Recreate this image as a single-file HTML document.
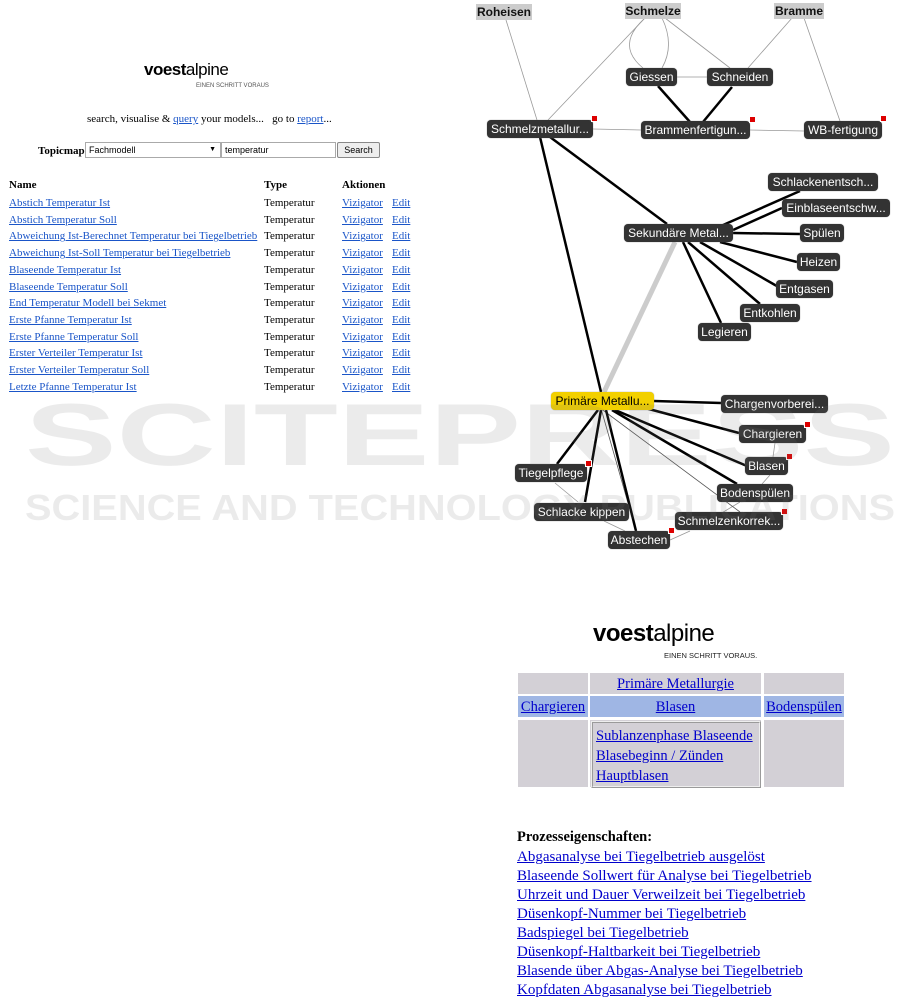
<!DOCTYPE html>
<html><head><meta charset="utf-8">
<style>
body{margin:0;width:913px;height:1005px;position:relative;background:#fff;overflow:hidden;font-family:"Liberation Serif",serif}
.a{position:absolute;white-space:nowrap}
.l{color:#1a55c8;text-decoration:underline}
.s{font-size:11px}
.n{position:absolute;background:#333;color:#fff;font-family:"Liberation Sans",sans-serif;font-size:12px;border-radius:4px;height:18px;line-height:18px;text-align:center;box-shadow:0 0 1px #888;white-space:nowrap}
.g{position:absolute;background:#ccc;color:#111;font-family:"Liberation Sans",sans-serif;font-size:12px;font-weight:bold;height:16px;line-height:16px;text-align:center}
.r{position:absolute;width:5px;height:5px;background:#d00;border:1px solid #fff}
.b{color:#00c;text-decoration:underline;font-size:14.5px}
.p{color:#00c;text-decoration:underline;font-size:15px}
</style></head><body>
<!-- left panel -->
<div class="a" style="left:144px;top:60px;font-family:'Liberation Sans',sans-serif;font-size:17px;font-weight:bold;letter-spacing:-0.5px">voest<span style="font-weight:normal">alpine</span></div>
<div class="a" style="left:196px;top:83px;font-family:'Liberation Sans',sans-serif;font-size:6px;color:#555">EINEN SCHRITT VORAUS</div>
<div class="a s" style="left:87px;top:113px">search, visualise &amp; <span class="l">query</span> your models...&nbsp;&nbsp; go to <span class="l">report</span>...</div>
<div class="a s" style="left:38px;top:145px;font-weight:bold">Topicmap</div>
<div class="a" style="left:85px;top:142px;width:131px;height:14px;border:1px solid #aaa;font-family:'Liberation Sans',sans-serif;font-size:9px;line-height:14px;padding-left:3px;box-sizing:content-box">Fachmodell<span style="position:absolute;right:4px;font-size:7px">▼</span></div>
<div class="a" style="left:221px;top:142px;width:110px;height:14px;border:1px solid #aaa;font-family:'Liberation Sans',sans-serif;font-size:9px;line-height:14px;padding-left:3px">temperatur</div>
<div class="a" style="left:337px;top:142px;width:41px;height:14px;border:1px solid #888;background:#eee;font-family:'Liberation Sans',sans-serif;font-size:9px;line-height:14px;text-align:center;border-radius:2px">Search</div>
<div class="a s" style="left:9px;top:179px;font-weight:bold">Name</div>
<div class="a s" style="left:264px;top:179px;font-weight:bold">Type</div>
<div class="a s" style="left:342px;top:179px;font-weight:bold">Aktionen</div>
<div class="a s" style="left:9px;top:195px;line-height:16.7px">
<div class="l">Abstich Temperatur Ist</div><div class="l">Abstich Temperatur Soll</div><div class="l">Abweichung Ist-Berechnet Temperatur bei Tiegelbetrieb</div><div class="l">Abweichung Ist-Soll Temperatur bei Tiegelbetrieb</div><div class="l">Blaseende Temperatur Ist</div><div class="l">Blaseende Temperatur Soll</div><div class="l">End Temperatur Modell bei Sekmet</div><div class="l">Erste Pfanne Temperatur Ist</div><div class="l">Erste Pfanne Temperatur Soll</div><div class="l">Erster Verteiler Temperatur Ist</div><div class="l">Erster Verteiler Temperatur Soll</div><div class="l">Letzte Pfanne Temperatur Ist</div></div>
<div class="a s" style="left:264px;top:195px;line-height:16.7px">Temperatur<br>Temperatur<br>Temperatur<br>Temperatur<br>Temperatur<br>Temperatur<br>Temperatur<br>Temperatur<br>Temperatur<br>Temperatur<br>Temperatur<br>Temperatur</div>
<div class="a s l" style="left:342px;top:195px;line-height:16.7px">Vizigator<br>Vizigator<br>Vizigator<br>Vizigator<br>Vizigator<br>Vizigator<br>Vizigator<br>Vizigator<br>Vizigator<br>Vizigator<br>Vizigator<br>Vizigator</div>
<div class="a s l" style="left:392px;top:195px;line-height:16.7px">Edit<br>Edit<br>Edit<br>Edit<br>Edit<br>Edit<br>Edit<br>Edit<br>Edit<br>Edit<br>Edit<br>Edit</div>

<!-- graph lines -->
<svg class="a" style="left:0;top:0" width="913" height="560">
<g stroke="#999" stroke-width="0.8" fill="none">
<line x1="506" y1="20" x2="537" y2="120"/><line x1="645" y1="18" x2="548" y2="120"/>
<path d="M645 18 Q615 45 643 68"/><path d="M662 18 Q675 45 662 68"/>
<line x1="665" y1="18" x2="730" y2="68"/><line x1="792" y1="18" x2="748" y2="68"/>
<line x1="804" y1="18" x2="840" y2="121"/><line x1="676" y1="77" x2="707" y2="77"/>
<line x1="593" y1="129" x2="641" y2="130"/><line x1="750" y1="130" x2="804" y2="131"/>
<line x1="775" y1="443" x2="773" y2="457"/><line x1="770" y1="475" x2="762" y2="484"/>
<line x1="720" y1="514" x2="740" y2="502"/><line x1="555" y1="483" x2="578" y2="502"/>
<line x1="604" y1="521" x2="625" y2="531"/><line x1="670" y1="540" x2="690" y2="531"/>
<line x1="596" y1="405" x2="740" y2="512" stroke="#555"/><line x1="600" y1="405" x2="636" y2="531" stroke="#555"/>
</g>
<g stroke="#ccc" stroke-width="5"><line x1="675" y1="242" x2="604" y2="392"/></g>
<g stroke="#000" stroke-width="2.5">
<line x1="540" y1="137" x2="601" y2="392"/><line x1="550" y1="137" x2="667" y2="224"/>
<line x1="658" y1="86" x2="690" y2="122"/><line x1="732" y1="87" x2="703" y2="122"/>
<line x1="705" y1="233" x2="800" y2="191"/><line x1="733" y1="230" x2="782" y2="208"/>
<line x1="733" y1="233" x2="800" y2="234"/><line x1="720" y1="242" x2="797" y2="262"/>
<line x1="700" y1="242" x2="782" y2="289"/><line x1="688" y1="242" x2="760" y2="304"/>
<line x1="683" y1="242" x2="721" y2="323"/>
<line x1="654" y1="401" x2="721" y2="403"/><line x1="645" y1="408" x2="739" y2="433"/>
<line x1="615" y1="410" x2="747" y2="466"/><line x1="612" y1="410" x2="737" y2="484"/>
<line x1="598" y1="410" x2="557" y2="464"/><line x1="601" y1="410" x2="585" y2="502"/>
<line x1="606" y1="410" x2="636" y2="531"/>
</g>
</svg>

<div class="g" style="left:476px;top:4px;width:56px">Roheisen</div>
<div class="g" style="left:625px;top:3px;width:56px">Schmelze</div>
<div class="g" style="left:774px;top:3px;width:50px">Bramme</div>
<div class="n" style="left:626px;top:68px;width:51px">Giessen</div>
<div class="n" style="left:707px;top:68px;width:66px">Schneiden</div>
<div class="n" style="left:487px;top:120px;width:106px">Schmelzmetallur...</div><div class="r" style="left:591px;top:115px"></div>
<div class="n" style="left:641px;top:121px;width:109px">Brammenfertigun...</div><div class="r" style="left:749px;top:116px"></div>
<div class="n" style="left:804px;top:121px;width:78px">WB-fertigung</div><div class="r" style="left:880px;top:115px"></div>
<div class="n" style="left:768px;top:173px;width:110px">Schlackenentsch...</div>
<div class="n" style="left:782px;top:199px;width:108px">Einblaseentschw...</div>
<div class="n" style="left:624px;top:224px;width:109px">Sekundäre Metal...</div>
<div class="n" style="left:800px;top:224px;width:44px">Spülen</div>
<div class="n" style="left:797px;top:253px;width:43px">Heizen</div>
<div class="n" style="left:776px;top:280px;width:57px">Entgasen</div>
<div class="n" style="left:740px;top:304px;width:60px">Entkohlen</div>
<div class="n" style="left:698px;top:323px;width:53px">Legieren</div>
<div class="n" style="left:551px;top:392px;width:103px;background:#f2d000;color:#000">Primäre Metallu...</div>
<div class="n" style="left:721px;top:395px;width:107px">Chargenvorberei...</div>
<div class="n" style="left:739px;top:425px;width:67px">Chargieren</div><div class="r" style="left:804px;top:421px"></div>
<div class="n" style="left:745px;top:457px;width:43px">Blasen</div><div class="r" style="left:786px;top:453px"></div>
<div class="n" style="left:515px;top:464px;width:72px">Tiegelpflege</div><div class="r" style="left:585px;top:460px"></div>
<div class="n" style="left:717px;top:484px;width:76px">Bodenspülen</div>
<div class="n" style="left:534px;top:503px;width:95px">Schlacke kippen</div>
<div class="n" style="left:675px;top:512px;width:108px">Schmelzenkorrek...</div><div class="r" style="left:781px;top:508px"></div>
<div class="n" style="left:608px;top:531px;width:62px">Abstechen</div><div class="r" style="left:668px;top:527px"></div>

<!-- bottom right -->
<div class="a" style="left:593px;top:620px;font-family:'Liberation Sans',sans-serif;font-size:24px;font-weight:bold;letter-spacing:-0.5px">voest<span style="font-weight:normal">alpine</span></div>
<div class="a" style="left:664px;top:651px;font-family:'Liberation Sans',sans-serif;font-size:7.5px;color:#222">EINEN SCHRITT VORAUS.</div>
<div class="a" style="left:518px;top:673px;width:70px;height:21px;background:#d3d0d6"></div>
<div class="a" style="left:590px;top:673px;width:171px;height:21px;background:#d3d0d6;text-align:center;line-height:21px"><span class="b">Primäre Metallurgie</span></div>
<div class="a" style="left:764px;top:673px;width:80px;height:21px;background:#d3d0d6"></div>
<div class="a" style="left:518px;top:696px;width:70px;height:21px;background:#9fb6e4;line-height:21px;text-align:center"><span class="b">Chargieren</span></div>
<div class="a" style="left:590px;top:696px;width:171px;height:21px;background:#9fb6e4;text-align:center;line-height:21px"><span class="b">Blasen</span></div>
<div class="a" style="left:764px;top:696px;width:80px;height:21px;background:#9fb6e4;line-height:21px;text-align:center"><span class="b">Bodenspülen</span></div>
<div class="a" style="left:518px;top:720px;width:70px;height:67px;background:#d3d0d6"></div>
<div class="a" style="left:590px;top:720px;width:171px;height:67px;background:#d3d0d6"></div>
<div class="a" style="left:764px;top:720px;width:80px;height:67px;background:#d3d0d6"></div>
<div class="a" style="left:591px;top:721px;width:163px;height:60px;border:2px ridge #eee;padding:3px 0 0 3px;line-height:19px"><span class="b">Sublanzenphase Blaseende</span><br><span class="b">Blasebeginn / Zünden</span><br><span class="b">Hauptblasen</span></div>
<div class="a" style="left:517px;top:829px;font-size:14.5px;font-weight:bold">Prozesseigenschaften:</div>
<div class="a" style="left:517px;top:848px;line-height:19px">
<div class="p">Abgasanalyse bei Tiegelbetrieb ausgelöst</div><div class="p">Blaseende Sollwert für Analyse bei Tiegelbetrieb</div><div class="p">Uhrzeit und Dauer Verweilzeit bei Tiegelbetrieb</div><div class="p">Düsenkopf-Nummer bei Tiegelbetrieb</div><div class="p">Badspiegel bei Tiegelbetrieb</div><div class="p">Düsenkopf-Haltbarkeit bei Tiegelbetrieb</div><div class="p">Blasende über Abgas-Analyse bei Tiegelbetrieb</div><div class="p">Kopfdaten Abgasanalyse bei Tiegelbetrieb</div></div>

<!-- watermark -->
<svg class="a" style="left:0;top:0;opacity:0.14" width="913" height="1005">
<g fill="#777" font-family="Liberation Sans, sans-serif" font-weight="bold">
<text x="25" y="465" font-size="88" textLength="870" lengthAdjust="spacingAndGlyphs">SCITEPRESS</text>
<text x="25" y="520" font-size="36" textLength="870" lengthAdjust="spacingAndGlyphs">SCIENCE AND TECHNOLOGY PUBLICATIONS</text>
</g>
</svg>
</body></html>
